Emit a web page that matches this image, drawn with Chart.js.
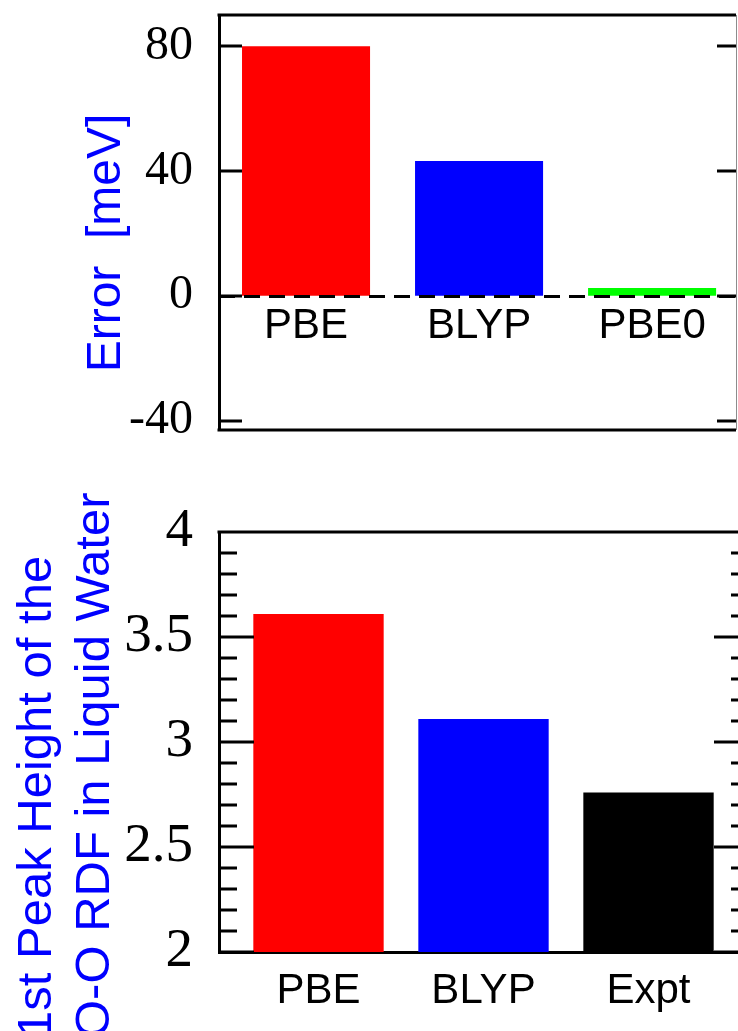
<!DOCTYPE html>
<html>
<head>
<meta charset="utf-8">
<title>Error and RDF peak height</title>
<script src="https://cdn.jsdelivr.net/npm/chart.js@4.4.1/dist/chart.umd.min.js"></script>
<style>
  html, body { margin: 0; padding: 0; background: #fff; overflow: hidden; }
  #wrap { position: relative; width: 738px; height: 1031px; overflow: hidden; }
  canvas { position: absolute; left: 0; }
  #errChart { top: 0; }
  #peakChart { top: 470px; }
</style>
</head>
<body>
<div id="wrap">
  <canvas id="errChart" width="738" height="470"></canvas>
  <canvas id="peakChart" width="760" height="561"></canvas>
</div>
<script>
const errorLabels = ['PBE', 'BLYP', 'PBE0'];
const errorValues = [80, 43.2, 2.5];
const errorColors = ['#ff0000', '#0000ff', '#00ff00'];
const errorTicks = [-40, 0, 40, 80];

const peakLabels = ['PBE', 'BLYP', 'Expt'];
const peakValues = [3.61, 3.11, 2.76];
const peakColors = ['#ff0000', '#0000ff', '#000000'];
const peakMajorTicks = [2, 2.5, 3, 3.5, 4];

const sans = "'Liberation Sans', Arial, Helvetica, sans-serif";
const serif = "'Liberation Serif', 'Times New Roman', Times, serif";

// box around the plot, tick marks pointing inwards on left and right,
// optional dashed line at y = 0 drawn over the bars
const frameBox = {
    id: 'frameBox',
    afterDraw(chart, args, opts) {
        const { ctx, chartArea: a } = chart;
        const y = chart.scales.y;
        ctx.save();
        ctx.strokeStyle = '#000';
        ctx.lineWidth = 3;
        ctx.beginPath();
        ctx.moveTo(a.left - 1.5, a.top);
        ctx.lineTo(a.right, a.top);
        if (opts.bottom) {
            ctx.moveTo(a.left - 1.5, a.bottom);
            ctx.lineTo(a.right, a.bottom);
        }
        y.ticks.forEach(t => {
            const py = Math.round(y.getPixelForValue(t.value));
            const len = t.label !== '' ? opts.major : opts.minor;
            ctx.moveTo(a.left, py);
            ctx.lineTo(a.left + len[0], py);
            ctx.moveTo(a.right, py);
            ctx.lineTo(a.right - len[1], py);
        });
        ctx.stroke();
        if (opts.zeroLine) {
            const y0 = Math.round(y.getPixelForValue(0)) + 0.5;
            ctx.setLineDash(opts.zeroLine);
            ctx.beginPath();
            ctx.moveTo(a.left, y0);
            ctx.lineTo(a.right, y0);
            ctx.stroke();
            ctx.setLineDash([]);
        }
        if (opts.rightEdge) {
            ctx.strokeStyle = opts.rightEdge;
            ctx.lineWidth = 1;
            ctx.beginPath();
            ctx.moveTo(a.right + 0.5, a.top);
            ctx.lineTo(a.right + 0.5, a.bottom);
            ctx.stroke();
        }
        ctx.restore();
    }
};

// rotated axis title, one entry of x per line
const sideTitle = {
    id: 'sideTitle',
    afterDraw(chart, args, opts) {
        const ctx = chart.ctx;
        ctx.save();
        ctx.fillStyle = opts.color;
        ctx.font = opts.font;
        ctx.textAlign = opts.align;
        ctx.textBaseline = 'alphabetic';
        opts.lines.forEach((line, i) => {
            ctx.save();
            ctx.translate(opts.x[i], opts.y);
            ctx.rotate(-Math.PI / 2);
            ctx.fillText(line, 0, 0);
            ctx.restore();
        });
        ctx.restore();
    }
};

const errChart = new Chart(document.getElementById('errChart'), {
    type: 'bar',
    data: {
        datasets: [{
            data: errorValues.map((v, i) => ({ x: i + 1, y: v })),
            backgroundColor: errorColors,
            borderWidth: 0,
            categoryPercentage: 1,
            barPercentage: 0.74
        }]
    },
    options: {
        responsive: false,
        animation: false,
        layout: { padding: { top: 15, right: 2, bottom: 40, left: 0 } },
        plugins: {
            legend: { display: false },
            tooltip: { enabled: false },
            frameBox: {
                bottom: true, major: [23, 19], minor: [23, 19],
                rightEdge: '#8c8c8c', zeroLine: [16, 9]
            },
            sideTitle: {
                lines: ['Error  [meV]'],
                x: [120], y: 243, align: 'center',
                font: '48px ' + sans, color: '#0000ff'
            }
        },
        scales: {
            x: {
                type: 'linear',
                position: { y: 0 },
                min: 0.497,
                max: 3.485,
                offset: false,
                grid: { display: false },
                border: { display: false },
                afterBuildTicks: s => { s.ticks = errorLabels.map((_, i) => ({ value: i + 1 })); },
                afterFit: s => { s.paddingLeft = 0; s.paddingRight = 0; },
                ticks: {
                    autoSkip: false,
                    maxRotation: 0,
                    padding: -3,
                    color: '#000',
                    font: { family: sans, size: 42 },
                    callback: v => errorLabels[v - 1] || ''
                }
            },
            y: {
                min: -43,
                max: 90,
                grid: { display: false },
                border: { color: '#000', width: 3 },
                afterBuildTicks: s => { s.ticks = errorTicks.map(v => ({ value: v })); },
                afterFit: s => { s.width = 219; s.paddingTop = 0; s.paddingBottom = 0; },
                ticks: {
                    autoSkip: false,
                    padding: 18,
                    color: '#000',
                    font: { family: serif, size: 48 },
                    callback: v => String(v)
                }
            }
        }
    },
    plugins: [frameBox, sideTitle]
});

const peakChart = new Chart(document.getElementById('peakChart'), {
    type: 'bar',
    data: {
        datasets: [{
            data: peakValues.map((v, i) => ({ x: i + 1, y: v })),
            backgroundColor: peakColors,
            borderWidth: 0,
            categoryPercentage: 1,
            barPercentage: 0.79
        }]
    },
    options: {
        responsive: false,
        animation: false,
        layout: { padding: { top: 62, right: 11, bottom: 0, left: 0 } },
        plugins: {
            legend: { display: false },
            tooltip: { enabled: false },
            frameBox: { bottom: false, major: [35, 35], minor: [18, 18] },
            sideTitle: {
                lines: ['1st Peak Height of the', 'O-O RDF in Liquid Water'],
                x: [51, 109], y: 568, align: 'left',
                font: '49px ' + sans, color: '#0000ff'
            }
        },
        scales: {
            x: {
                type: 'linear',
                position: 'bottom',
                min: 0.397,
                max: 3.609,
                offset: false,
                grid: { display: false },
                border: { display: true, color: '#000', width: 3 },
                afterBuildTicks: s => { s.ticks = peakLabels.map((_, i) => ({ value: i + 1 })); },
                afterFit: s => { s.height = 79; s.paddingLeft = 0; s.paddingRight = 0; },
                ticks: {
                    autoSkip: false,
                    maxRotation: 0,
                    padding: 6,
                    color: '#000',
                    font: { family: sans, size: 42 },
                    callback: v => peakLabels[v - 1] || ''
                }
            },
            y: {
                min: 2,
                max: 4,
                grid: { display: false },
                border: { color: '#000', width: 3 },
                afterFit: s => { s.width = 219; s.paddingTop = 0; s.paddingBottom = 0; },
                ticks: {
                    stepSize: 0.1,
                    autoSkip: false,
                    padding: 18,
                    color: '#000',
                    font: { family: serif, size: 55 },
                    callback: v => peakMajorTicks.includes(Math.round(v * 10) / 10) ? String(Math.round(v * 10) / 10) : ''
                }
            }
        }
    },
    plugins: [frameBox, sideTitle]
});
</script>
</body>
</html>
